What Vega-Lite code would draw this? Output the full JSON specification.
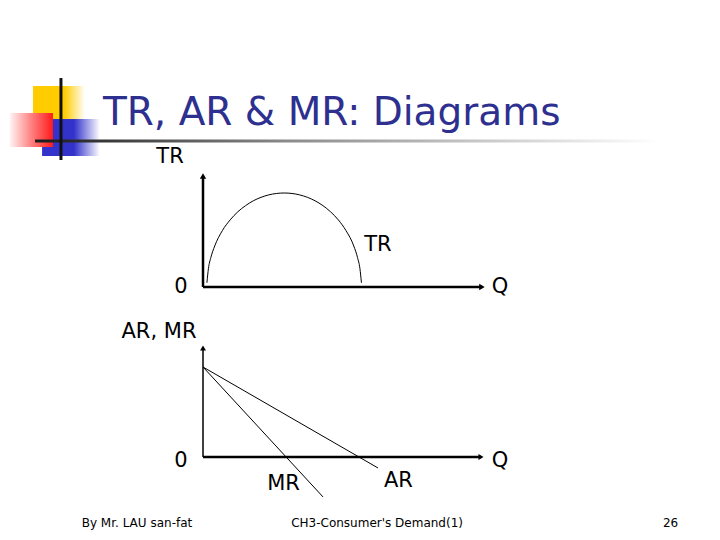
{
  "$schema": "https://vega.github.io/schema/vega-lite/v6.json",
  "width": 720,
  "height": 540,
  "autosize": {"type": "fit", "contains": "padding"},
  "padding": 0,
  "background": "white",
  "config": {"view": {"stroke": null}},
  "datasets": {
    "tr_curve": [
      {"q": 0.25, "v": 4.5}, {"q": 0.35, "v": 19.9}, {"q": 0.50, "v": 31.2}, {"q": 0.75, "v": 43.6},
      {"q": 1.24, "v": 60.0}, {"q": 1.74, "v": 71.4}, {"q": 2.23, "v": 80.0}, {"q": 2.73, "v": 86.6},
      {"q": 3.22, "v": 91.7}, {"q": 3.72, "v": 95.4}, {"q": 4.21, "v": 98.0}, {"q": 4.71, "v": 99.5},
      {"q": 5.20, "v": 100.0}, {"q": 5.70, "v": 99.5}, {"q": 6.19, "v": 98.0}, {"q": 6.69, "v": 95.4},
      {"q": 7.18, "v": 91.7}, {"q": 7.68, "v": 86.6}, {"q": 8.17, "v": 80.0}, {"q": 8.67, "v": 71.4},
      {"q": 9.16, "v": 60.0}, {"q": 9.66, "v": 43.6}, {"q": 9.90, "v": 31.2}, {"q": 10.05, "v": 19.9},
      {"q": 10.15, "v": 4.5}
    ],
    "revenue_lines": [
      {"curve": "AR", "q": 0, "v": 10}, {"curve": "AR", "q": 11.21, "v": -1.22},
      {"curve": "MR", "q": 0, "v": 10}, {"curve": "MR", "q": 7.69, "v": -4.44}
    ],
    "logo": [
      {"part": "yellow", "q": -10.89, "q2": -7.56, "v": 213.8, "v2": 177.7},
      {"part": "blue", "q": -10.31, "q2": -6.60, "v": 178.7, "v2": 139.4},
      {"part": "red", "q": -12.36, "q2": -9.61, "v": 185.1, "v2": 148.9},
      {"part": "underline", "q": -10.76, "q2": 29.28, "v": 156.9, "v2": 153.7}
    ],
    "logo_vline": [{"q": -9.10, "v": 222.3, "v2": 135.1}],
    "title": [{"q": -6.41, "v": 172.3, "text": "TR, AR & MR: Diagrams"}],
    "top_axes": [
      {"q": 0, "q2": 0, "v": 0, "v2": 118.1},
      {"q": 0, "q2": 17.87, "v": 0, "v2": 0}
    ],
    "top_arrows": [
      {"q": 0, "v": 118.1, "dir": "up"},
      {"q": 17.87, "v": 0, "dir": "right"}
    ],
    "top_labels": [
      {"q": -2.11, "v": 131.9, "text": "TR"},
      {"q": 11.21, "v": 38.3, "text": "TR"},
      {"q": -1.41, "v": -6.9, "text": "0"},
      {"q": 19.03, "v": -6.9, "text": "Q"}
    ],
    "bottom_vaxis": [{"q": 0, "v": 0, "v2": 12.11}],
    "bottom_haxis": [{"q": 0, "q2": 17.81, "v": 0}],
    "bottom_arrows": [
      {"q": 0, "v": 12.11, "dir": "up"},
      {"q": 17.81, "v": 0, "dir": "right"}
    ],
    "bottom_labels": [
      {"q": -2.82, "v": 13.22, "text": "AR, MR"},
      {"q": -1.41, "v": -1.11, "text": "0"},
      {"q": 19.03, "v": -1.11, "text": "Q"},
      {"q": 5.16, "v": -3.67, "text": "MR"},
      {"q": 12.52, "v": -3.33, "text": "AR"}
    ],
    "footer": [
      {"q": -4.23, "v": -7.78, "text": "By Mr. LAU san-fat"},
      {"q": 11.15, "v": -7.78, "text": "CH3-Consumer's Demand(1)"},
      {"q": 29.95, "v": -7.78, "text": "26"}
    ]
  },
  "encoding": {
    "x": {"field": "q", "type": "quantitative", "scale": {"domain": [-13.005, 33.12], "nice": false, "zero": false}, "axis": null}
  },
  "layer": [
    {
      "encoding": {
        "y": {"field": "v", "type": "quantitative", "scale": {"domain": [-269.15, 305.32], "nice": false, "zero": false}, "axis": null}
      },
      "layer": [
        {
          "data": {"name": "logo"},
          "transform": [{"filter": "datum.part === 'yellow'"}],
          "mark": {"type": "rect", "color": {"gradient": "linear", "x1": 0, "y1": 0, "x2": 1, "y2": 0, "stops": [{"offset": 0, "color": "#FFCC00"}, {"offset": 0.6, "color": "#FFCC00"}, {"offset": 1, "color": "#FFFFFF"}]}},
          "encoding": {"x2": {"field": "q2"}, "y2": {"field": "v2"}}
        },
        {
          "data": {"name": "logo"},
          "transform": [{"filter": "datum.part === 'blue'"}],
          "mark": {"type": "rect", "color": {"gradient": "linear", "x1": 0, "y1": 0, "x2": 1, "y2": 0, "stops": [{"offset": 0, "color": "#3333CC"}, {"offset": 0.55, "color": "#3333CC"}, {"offset": 1, "color": "#FFFFFF"}]}},
          "encoding": {"x2": {"field": "q2"}, "y2": {"field": "v2"}}
        },
        {
          "data": {"name": "logo"},
          "transform": [{"filter": "datum.part === 'red'"}],
          "mark": {"type": "rect", "color": {"gradient": "linear", "x1": 0, "y1": 0, "x2": 1, "y2": 0, "stops": [{"offset": 0, "color": "#FFF2F2"}, {"offset": 0.5, "color": "#FF8080"}, {"offset": 1, "color": "#FF1A1A"}]}},
          "encoding": {"x2": {"field": "q2"}, "y2": {"field": "v2"}}
        },
        {
          "data": {"name": "logo"},
          "transform": [{"filter": "datum.part === 'underline'"}],
          "mark": {"type": "rect", "color": {"gradient": "linear", "x1": 0, "y1": 0, "x2": 1, "y2": 0, "stops": [{"offset": 0, "color": "#1A1A1A"}, {"offset": 0.12, "color": "#3A3A3A"}, {"offset": 0.4, "color": "#8A8A8A"}, {"offset": 0.75, "color": "#CFCFCF"}, {"offset": 1, "color": "#FFFFFF"}]}},
          "encoding": {"x2": {"field": "q2"}, "y2": {"field": "v2"}}
        },
        {
          "data": {"name": "logo_vline"},
          "mark": {"type": "rule", "color": "#111111", "strokeWidth": 3},
          "encoding": {"y2": {"field": "v2"}}
        },
        {
          "data": {"name": "title"},
          "mark": {"type": "text", "align": "left", "baseline": "alphabetic", "font": "DejaVu Sans", "fontSize": 39, "color": "#2E3090"},
          "encoding": {"text": {"field": "text"}}
        },
        {
          "data": {"name": "top_axes"},
          "mark": {"type": "rule", "color": "#000000", "strokeWidth": 2.5},
          "encoding": {"x2": {"field": "q2"}, "y2": {"field": "v2"}}
        },
        {
          "data": {"name": "top_arrows"},
          "mark": {"type": "point", "filled": true, "color": "#000000", "opacity": 1, "size": 40},
          "encoding": {"shape": {"field": "dir", "type": "nominal", "scale": {"domain": ["up", "right"], "range": ["triangle-up", "triangle-right"]}, "legend": null}}
        },
        {
          "data": {"name": "tr_curve"},
          "mark": {"type": "line", "color": "#000000", "strokeWidth": 1, "interpolate": "monotone"},
          "encoding": {}
        },
        {
          "data": {"name": "top_labels"},
          "mark": {"type": "text", "align": "center", "baseline": "alphabetic", "font": "DejaVu Sans", "fontSize": 21, "color": "#000000"},
          "encoding": {"text": {"field": "text"}}
        }
      ]
    },
    {
      "encoding": {
        "y": {"field": "v", "type": "quantitative", "scale": {"domain": [-9.222, 50.778], "nice": false, "zero": false}, "axis": null}
      },
      "layer": [
        {
          "data": {"name": "bottom_vaxis"},
          "mark": {"type": "rule", "color": "#000000", "strokeWidth": 1.5},
          "encoding": {"y2": {"field": "v2"}}
        },
        {
          "data": {"name": "bottom_haxis"},
          "mark": {"type": "rule", "color": "#000000", "strokeWidth": 2.5},
          "encoding": {"x2": {"field": "q2"}}
        },
        {
          "data": {"name": "bottom_arrows"},
          "mark": {"type": "point", "filled": true, "color": "#000000", "opacity": 1, "size": 35},
          "encoding": {"shape": {"field": "dir", "type": "nominal", "scale": {"domain": ["up", "right"], "range": ["triangle-up", "triangle-right"]}, "legend": null}}
        },
        {
          "data": {"name": "revenue_lines"},
          "mark": {"type": "line", "color": "#000000", "strokeWidth": 1},
          "encoding": {"detail": {"field": "curve", "type": "nominal"}}
        },
        {
          "data": {"name": "bottom_labels"},
          "mark": {"type": "text", "align": "center", "baseline": "alphabetic", "font": "DejaVu Sans", "fontSize": 21, "color": "#000000"},
          "encoding": {"text": {"field": "text"}}
        },
        {
          "data": {"name": "footer"},
          "mark": {"type": "text", "align": "center", "baseline": "alphabetic", "font": "DejaVu Sans", "fontSize": 12, "color": "#000000"},
          "encoding": {"text": {"field": "text"}}
        }
      ]
    }
  ],
  "resolve": {"scale": {"y": "independent", "shape": "shared"}}
}
